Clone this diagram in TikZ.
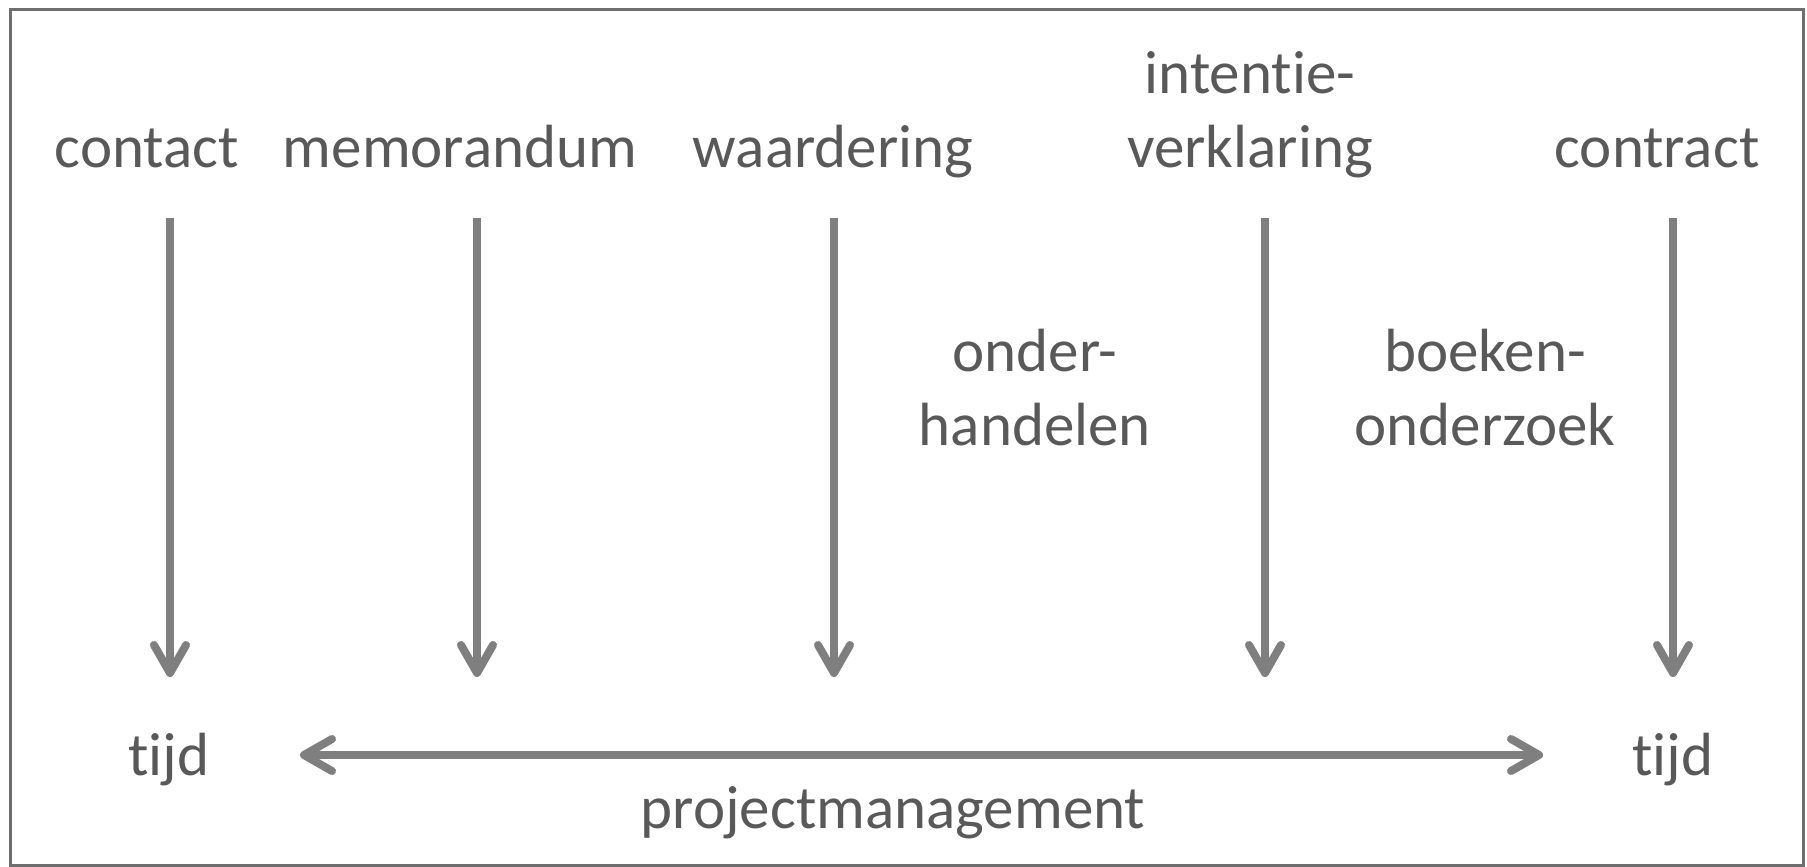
\documentclass[tikz,border=0pt]{standalone}
\usepackage{fontspec}
\setmainfont{Carlito}[Ligatures=NoCommon]
\usetikzlibrary{arrows.meta}
\definecolor{tekstgrijs}{HTML}{595959}
\definecolor{pijlgrijs}{HTML}{7F7F7F}
\definecolor{randgrijs}{HTML}{6E6E6E}
\begin{document}
\begin{tikzpicture}[x=1pt, y=-1pt,
  woord/.style={text=tekstgrijs, font=\fontsize{61}{74}\selectfont, inner sep=0pt, anchor=base, align=center},
  pijl/.style={draw=pijlgrijs, line width=8pt, -{Straight Barb[length=28pt,width=32pt,round]}}]
\useasboundingbox (0,0) rectangle (1807,867);
\draw[randgrijs, line width=3pt] (10,10) rectangle (1803,865);
% stappen
\node[woord] (contact) at (147,167){contact};
\node[woord] (memo) at (460,167){memorandum};
\node[woord] (waarde) at (833,167){waardering};
\node[woord] (intentie) at (1250,167){intentie-\\verklaring};
\node[woord] (contract) at (1657,167){contract};
\node[woord] (onder) at (1035,445){onder-\\handelen};
\node[woord] (boeken) at (1485,445){boeken-\\onderzoek};
% tijdlijn
\node[woord] (tijd0) at (169,775){tijd};
\node[woord] (tijd1) at (1673,775){tijd};
\node[woord] (pm) at (893,828){projectmanagement};
\coordinate (c0) at (170,218);
\coordinate (c1) at (170,677);
\coordinate (m0) at (477,218);
\coordinate (m1) at (477,677);
\coordinate (w0) at (834,218);
\coordinate (w1) at (834,677);
\coordinate (i0) at (1265,218);
\coordinate (i1) at (1265,677);
\coordinate (k0) at (1673,218);
\coordinate (k1) at (1673,677);
\coordinate (t0) at (300,755);
\coordinate (t1) at (1543,755);
\draw[pijl](c0) -- (c1);
\draw[pijl](m0) -- (m1);
\draw[pijl](w0) -- (w1);
\draw[pijl](i0) -- (i1);
\draw[pijl](k0) -- (k1);
\draw[pijl, {Straight Barb[length=28pt,width=32pt,round]}-{Straight Barb[length=28pt,width=32pt,round]}](t0) -- (t1);
\end{tikzpicture}
\end{document}
